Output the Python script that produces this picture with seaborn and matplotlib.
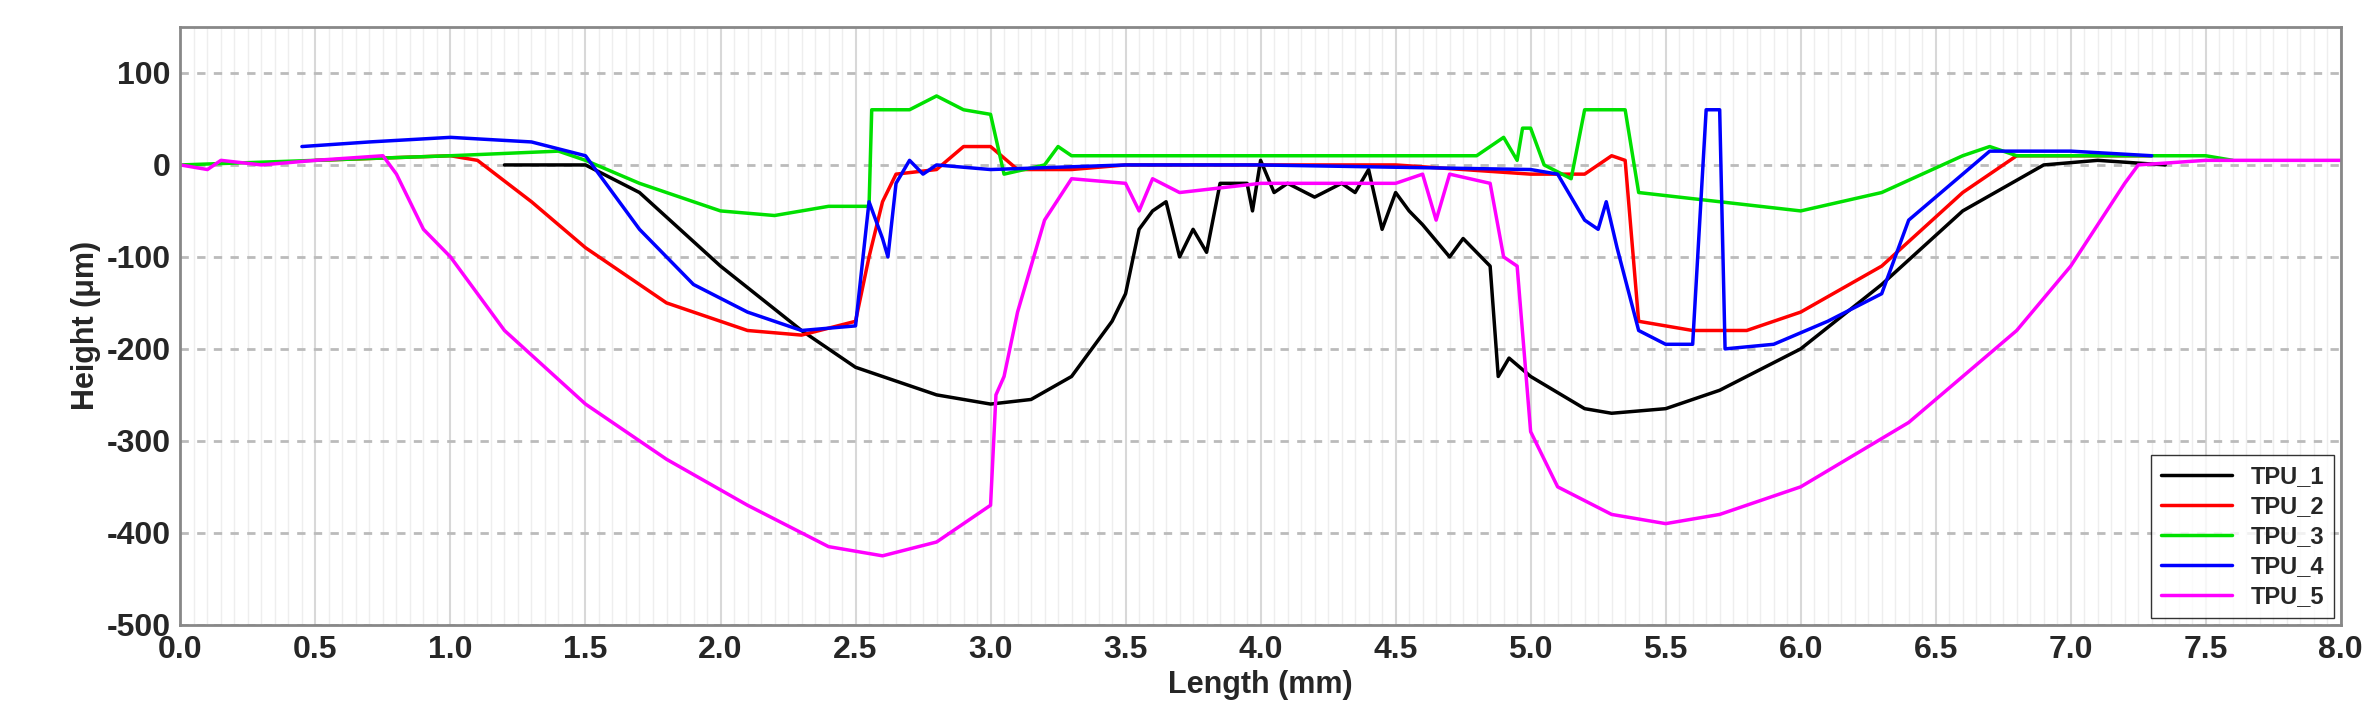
import numpy as np
import pandas as pd
import matplotlib
matplotlib.use("Agg")
import matplotlib.pyplot as plt
import seaborn as sns
from matplotlib.ticker import MultipleLocator

tpu1_x = [1.2,1.5,1.7,2.0,2.3,2.5,2.8,3.0,3.15,3.3,3.45,3.5,3.55,3.6,3.65,3.7,3.75,3.8,3.85,3.95,3.97,4.0,4.05,4.1,4.2,4.3,4.35,4.4,4.45,4.5,4.55,4.6,4.7,4.75,4.85,4.88,4.92,5.0,5.2,5.3,5.5,5.7,6.0,6.3,6.6,6.9,7.1,7.35]
tpu1_y = [0,0,-30,-110,-180,-220,-250,-260,-255,-230,-170,-140,-70,-50,-40,-100,-70,-95,-20,-20,-50,5,-30,-20,-35,-20,-30,-5,-70,-30,-50,-65,-100,-80,-110,-230,-210,-230,-265,-270,-265,-245,-200,-130,-50,0,5,0]
tpu2_x = [0.5,1.0,1.1,1.3,1.5,1.8,2.1,2.3,2.5,2.55,2.6,2.65,2.8,2.9,3.0,3.1,3.3,3.5,4.0,4.5,5.0,5.2,5.3,5.35,5.4,5.6,5.8,6.0,6.3,6.6,6.8,7.3]
tpu2_y = [5,10,5,-40,-90,-150,-180,-185,-170,-100,-40,-10,-5,20,20,-5,-5,0,0,0,-10,-10,10,5,-170,-180,-180,-160,-110,-30,10,10]
tpu3_x = [0,0.5,1.0,1.4,1.5,1.7,2.0,2.2,2.4,2.55,2.56,2.7,2.8,2.9,3.0,3.05,3.2,3.25,3.3,4.0,4.8,4.9,4.95,4.97,5.0,5.05,5.15,5.2,5.35,5.4,5.7,6.0,6.3,6.6,6.7,6.8,7.5,7.6]
tpu3_y = [0,5,10,15,5,-20,-50,-55,-45,-45,60,60,75,60,55,-10,0,20,10,10,10,30,5,40,40,0,-15,60,60,-30,-40,-50,-30,10,20,10,10,5]
tpu4_x = [0.45,0.7,1.0,1.3,1.5,1.6,1.7,1.9,2.1,2.3,2.5,2.55,2.6,2.62,2.65,2.7,2.75,2.8,3.0,3.5,4.0,5.0,5.1,5.2,5.25,5.28,5.32,5.4,5.5,5.6,5.65,5.7,5.72,5.9,6.1,6.3,6.4,6.6,6.7,7.0,7.3]
tpu4_y = [20,25,30,25,10,-30,-70,-130,-160,-180,-175,-40,-80,-100,-20,5,-10,0,-5,0,0,-5,-10,-60,-70,-40,-90,-180,-195,-195,60,60,-200,-195,-170,-140,-60,-10,15,15,10]
tpu5_x = [0,0.1,0.15,0.3,0.5,0.75,0.8,0.9,1.0,1.2,1.5,1.8,2.1,2.4,2.6,2.8,3.0,3.02,3.05,3.1,3.2,3.3,3.5,3.55,3.6,3.7,4.0,4.5,4.6,4.65,4.7,4.85,4.9,4.95,5.0,5.1,5.3,5.5,5.7,6.0,6.4,6.8,7.0,7.2,7.25,7.5,8.0]
tpu5_y = [0,-5,5,0,5,10,-10,-70,-100,-180,-260,-320,-370,-415,-425,-410,-370,-250,-230,-160,-60,-15,-20,-50,-15,-30,-20,-20,-10,-60,-10,-20,-100,-110,-290,-350,-380,-390,-380,-350,-280,-180,-110,-20,0,5,5]

names = ["TPU_1","TPU_2","TPU_3","TPU_4","TPU_5"]
colors = ["#000000","#ff0000","#00e000","#0000ff","#ff00ff"]
xs = [tpu1_x,tpu2_x,tpu3_x,tpu4_x,tpu5_x]
ys = [tpu1_y,tpu2_y,tpu3_y,tpu4_y,tpu5_y]
df = pd.concat([pd.DataFrame({"x":x,"y":y,"s":n}) for x,y,n in zip(xs,ys,names)])

sns.set_style("white")
plt.rcParams['font.family'] = ['Liberation Sans', 'DejaVu Sans']
plt.rcParams['axes.unicode_minus'] = False
fig = plt.figure(figsize=(23.74,7.1), dpi=100)
ax = fig.add_axes([0.076,0.12,0.91,0.842])
ax.xaxis.set_minor_locator(MultipleLocator(0.05))
ax.grid(which='minor', axis='x', color='#eeeeee', lw=1)
ax.grid(which='major', axis='x', color='#d8d8d8', lw=1.5)
ax.grid(which='major', axis='y', color='#bbbbbb', lw=2, ls=(0,(3,3)))
sns.lineplot(data=df, x="x", y="y", hue="s", palette=colors, sort=False, estimator=None, lw=2.5, ax=ax)
ax.set_xlim(0,8); ax.set_ylim(-500,150)
ax.set_xticks(np.arange(0,8.01,0.5))
ax.set_xticklabels([f"{v:.1f}" for v in np.arange(0,8.01,0.5)])
ax.set_yticks(np.arange(-500,101,100))
ax.yaxis.set_minor_locator(MultipleLocator(50))
ax.tick_params(labelsize=23)
for lab in ax.get_xticklabels()+ax.get_yticklabels(): lab.set_fontweight('bold')
ax.set_xlabel("Length (mm)", fontsize=22, fontweight='bold')
ax.set_ylabel("Height (μm)", fontsize=22, fontweight='bold')
for s in ax.spines.values(): s.set_color('#888888'); s.set_linewidth(2)
ax.legend(loc='lower right', prop={'weight':'bold','size':17}, frameon=True, fancybox=False,
          edgecolor='black', handlelength=3, borderaxespad=0.3, labelspacing=0.3)
fig.savefig("out.png", dpi=100)
